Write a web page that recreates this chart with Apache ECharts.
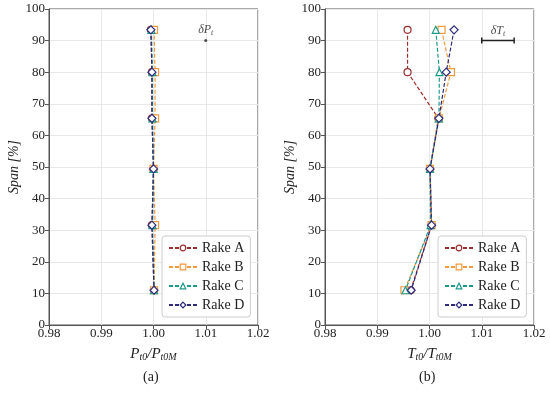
<!DOCTYPE html>
<html><head><meta charset="utf-8">
<script src="https://cdn.jsdelivr.net/npm/echarts@6/dist/echarts.min.js"></script>
<style>html,body{margin:0;padding:0;background:#fff}#c{width:550px;height:398px}</style>
</head><body><div id="c"></div>
<script>
const spans = [93.4, 80.0, 65.4, 49.4, 31.6, 11.0];
const ptA = [0.9995, 0.9997, 0.9997, 1.0000, 0.9997, 1.0001];
const ptB = [1.0001, 1.0003, 1.0003, 1.0000, 1.0003, 1.0001];
const ptC = [0.9996, 0.9998, 0.9998, 1.0000, 0.9998, 1.0001];
const ptD = [0.9995, 0.9997, 0.9997, 1.0000, 0.9997, 1.0001];
const ttA = [0.9958, 0.9958, 1.0017, 1.0001, 1.0004, 0.9964];
const ttB = [1.0023, 1.0041, 1.0018, 1.0001, 1.0004, 0.9952];
const ttC = [1.0012, 1.0019, 1.0018, 1.0001, 1.0002, 0.9954];
const ttD = [1.0047, 1.0032, 1.0018, 1.0001, 1.0004, 0.9965];
const rakes = ['Rake A', 'Rake B', 'Rake C', 'Rake D'];
const colors = ['#9a2e2e', '#f19a3e', '#1c9a8c', '#2d2b7a'];
const symbols = ['circle', 'rect', 'triangle', 'diamond'];
const xTicks = [0.98, 0.99, 1.00, 1.01, 1.02];
const yTicks = [0, 10, 20, 30, 40, 50, 60, 70, 80, 90, 100];
const dPt = [1.01, 90];
const dTt = [[1.01, 90], [1.0162, 90]];

const FONT = 'Liberation Serif';
const chart = echarts.init(document.getElementById('c'));
function pairs(xs) { return xs.map((x, i) => [x, spans[i]]); }
function rakeSeries(arrs, idx) {
  return arrs.map((a, i) => ({
    name: rakes[i], type: 'line', xAxisIndex: idx, yAxisIndex: idx,
    data: pairs(a), symbol: symbols[i], symbolSize: symbols[i] === 'diamond' ? 8 : 7,
    showAllSymbol: true,
    itemStyle: { color: '#fff', borderColor: colors[i], borderWidth: 1.2 },
    lineStyle: { color: colors[i], width: 1.2, type: [4, 2] },
    color: colors[i], z: 3 + i, animation: false
  }));
}
function xAxis(idx, nm) {
  return {
    type: 'value', gridIndex: idx, min: xTicks[0], max: xTicks[xTicks.length - 1], interval: 0.01,
    name: nm, nameLocation: 'middle', nameGap: 21,
    nameTextStyle: { fontFamily: FONT, rich: {
      i: { fontFamily: FONT, fontStyle: 'italic', fontSize: 15, lineHeight: 16, color: '#222' },
      s: { fontFamily: FONT, fontStyle: 'italic', fontSize: 10, lineHeight: 4, verticalAlign: 'bottom', color: '#222' }
    } },
    axisLine: { show: true, onZero: false, lineStyle: { color: '#555' } },
    axisTick: { show: true, length: 4, lineStyle: { color: '#555' } },
    axisLabel: { fontFamily: FONT, fontSize: 13, color: '#222', margin: 2, formatter: v => v.toFixed(2) },
    splitLine: { show: true, lineStyle: { color: '#e8e8e8' } }
  };
}
function yAxis(idx) {
  return {
    type: 'value', gridIndex: idx, min: yTicks[0], max: yTicks[yTicks.length - 1], interval: 10,
    name: 'Span [%]', nameLocation: 'middle', nameGap: 28,
    nameTextStyle: { fontFamily: FONT, fontStyle: 'italic', fontSize: 14, color: '#222' },
    axisLine: { show: true, lineStyle: { color: '#555' } },
    axisTick: { show: true, length: 4, lineStyle: { color: '#555' } },
    axisLabel: { fontFamily: FONT, fontSize: 13, color: '#222', margin: 4 },
    splitLine: { show: true, lineStyle: { color: '#e8e8e8' } }
  };
}
const deltaRich = {
  i: { fontFamily: FONT, fontStyle: 'italic', fontSize: 12, lineHeight: 14, color: '#222' },
  s: { fontFamily: FONT, fontStyle: 'italic', fontSize: 8, lineHeight: 4, verticalAlign: 'bottom', color: '#222' }
};
function legend(left) {
  return {
    data: rakes.map((n, i) => ({ name: n,
      itemStyle: { color: '#fff', borderColor: colors[i], borderWidth: 1.2 } })),
    orient: 'vertical', left: left, top: 236,
    itemWidth: 28, itemHeight: 7, itemGap: 5,
    backgroundColor: '#fff', borderColor: '#ccc', borderWidth: 1, borderRadius: 3,
    padding: [5, 6, 5, 6],
    textStyle: { fontFamily: FONT, fontSize: 14, color: '#222' }
  };
}
chart.setOption({
  animation: false,
  grid: [
    { left: 49, width: 209, top: 9, bottom: 73, show: true, borderColor: '#555', borderWidth: 1 },
    { left: 325, width: 209, top: 9, bottom: 73, show: true, borderColor: '#555', borderWidth: 1 }
  ],
  xAxis: [xAxis(0, '{i|P}{s|t0}{i|/P}{s|t0M}'), xAxis(1, '{i|T}{s|t0}{i|/T}{s|t0M}')],
  yAxis: [yAxis(0), yAxis(1)],
  legend: [legend(162), legend(438)],
  graphic: [
    { type: 'text', left: 143, top: 370, style: { text: '(a)', fontFamily: FONT, fontSize: 14, fill: '#222' } },
    { type: 'text', left: 419, top: 370, style: { text: '(b)', fontFamily: FONT, fontSize: 14, fill: '#222' } }
  ],
  series: [
    ...rakeSeries([ptA, ptB, ptC, ptD], 0),
    ...rakeSeries([ttA, ttB, ttC, ttD], 1),
    { type: 'scatter', xAxisIndex: 0, yAxisIndex: 0, data: [dPt], symbolSize: 3,
      itemStyle: { color: '#222' },
      label: { show: true, position: 'top', distance: 2, formatter: '{i|δP}{s|t}', rich: deltaRich } },
    { type: 'line', xAxisIndex: 1, yAxisIndex: 1, data: dTt, symbol: 'rect', symbolSize: [1.5, 6],
      itemStyle: { color: '#222' }, lineStyle: { color: '#222', width: 1.5 } },
    { type: 'scatter', xAxisIndex: 1, yAxisIndex: 1, data: [[(dTt[0][0] + dTt[1][0]) / 2, 90]], symbolSize: 0,
      label: { show: true, position: 'top', distance: 3, formatter: '{i|δT}{s|t}', rich: deltaRich } }
  ]
});
</script></body></html>
